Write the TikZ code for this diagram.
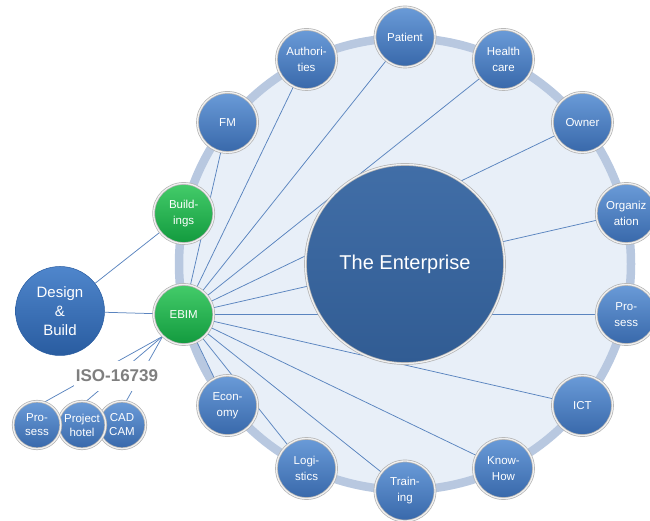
\documentclass[tikz,border=0pt]{standalone}
\usepackage{fontspec}
\setmainfont{Liberation Sans}
\definecolor{orbtop}{HTML}{6A9BD8}
\definecolor{orbbot}{HTML}{3868AA}
\definecolor{greentop}{HTML}{44CC6A}
\definecolor{greenbot}{HTML}{129A3E}
\definecolor{enttop}{HTML}{416EA7}
\definecolor{entbot}{HTML}{315C93}
\definecolor{dbtop}{HTML}{4F86CC}
\definecolor{dbbot}{HTML}{295CA0}
\definecolor{ringfill}{HTML}{E8EFF8}
\definecolor{ringband}{HTML}{B8C8E0}
\definecolor{linkblue}{HTML}{5A84BF}
\definecolor{isogrey}{HTML}{7F7F7F}
\pgfdeclarelayer{ring}
\pgfdeclarelayer{links}
\pgfsetlayers{ring,links,main}

\begin{document}
\begin{tikzpicture}[x=1pt, y=1pt,
    orb/.style={circle, minimum size=60pt, inner sep=0pt, align=center,
        text=white, font=\fontsize{11.5}{16}\selectfont,
        draw=gray!60, line width=0.7pt, double=gray!12, double distance=1.3pt},
    blueorb/.style={orb, top color=orbtop, bottom color=orbbot},
    greenorb/.style={orb, top color=greentop, bottom color=greenbot},
    smallorb/.style={blueorb, minimum size=47.5pt, font=\fontsize{11.5}{14}\selectfont},
    link/.style={linkblue, line width=0.75pt}
]
\useasboundingbox (0,0) rectangle (650,521);

% =========================
% The enterprise ring
% =========================
\begin{scope}[shift={(405,257)}]
    \begin{pgfonlayer}{ring}
        \fill[ringfill] (0,0) circle (226pt);
        \draw[ringband, line width=8.5pt] (0,0) circle (226pt);
    \end{pgfonlayer}

    % centre
    \node[orb, minimum size=199pt, top color=enttop, bottom color=entbot,
        font=\fontsize{20}{24}\selectfont] (ent) at (0,0) {The Enterprise};

    % ring members
    \foreach \k/\txt in {0/Patient, 1/Authori-\\ties, 2/FM, 5/Econ-\\omy,
        6/Logi-\\stics, 7/Train-\\ing, 8/Know-\\How, 9/ICT, 10/Pro-\\sess,
        11/Organiz\\ation, 12/Owner, 13/Health\\care}
        \node[blueorb] (o\k) at ({90+\k*360/14}:227pt) {\txt};

    \node[greenorb] (bld) at ({90+3*360/14}:227pt) {Build-\\ings};
    \node[greenorb] (ebim) at ({90+4*360/14}:227pt) {EBIM};
\end{scope}

% =========================
% Design & Build, ISO
% =========================
\node[circle, minimum size=89pt, inner sep=0pt, align=center, text=white,
    top color=dbtop, bottom color=dbbot, draw=dbbot, line width=0.5pt,
    font=\fontsize{15}{19}\selectfont] (db) at (60,210) {Design\\\&\\Build};

\node[smallorb] (cc) at (122,96) {CAD\\CAM};
\node[smallorb] (ph) at (82,96) {Project\\hotel};
\node[smallorb] (ps) at (37,96) {Pro-\\sess};

\node[fill=white, inner xsep=1.5pt, inner ysep=9pt, text=isogrey,
    font=\bfseries\fontsize{17}{17}\selectfont] (iso) at (117,145) {ISO-16739};

% links
\begin{pgfonlayer}{links}
    \foreach \k in {0,1,2,5,6,7,8,9,10,11,12,13}
        \draw[link] (ebim) -- (o\k);
    \draw[link] (db) -- (ebim);
    \draw[link] (db) -- (bld);
    \foreach \n/\a in {ps/72, ph/80, cc/80}
        \draw[link] (ebim.226) -- (\n.\a);
\end{pgfonlayer}

\end{tikzpicture}
\end{document}
